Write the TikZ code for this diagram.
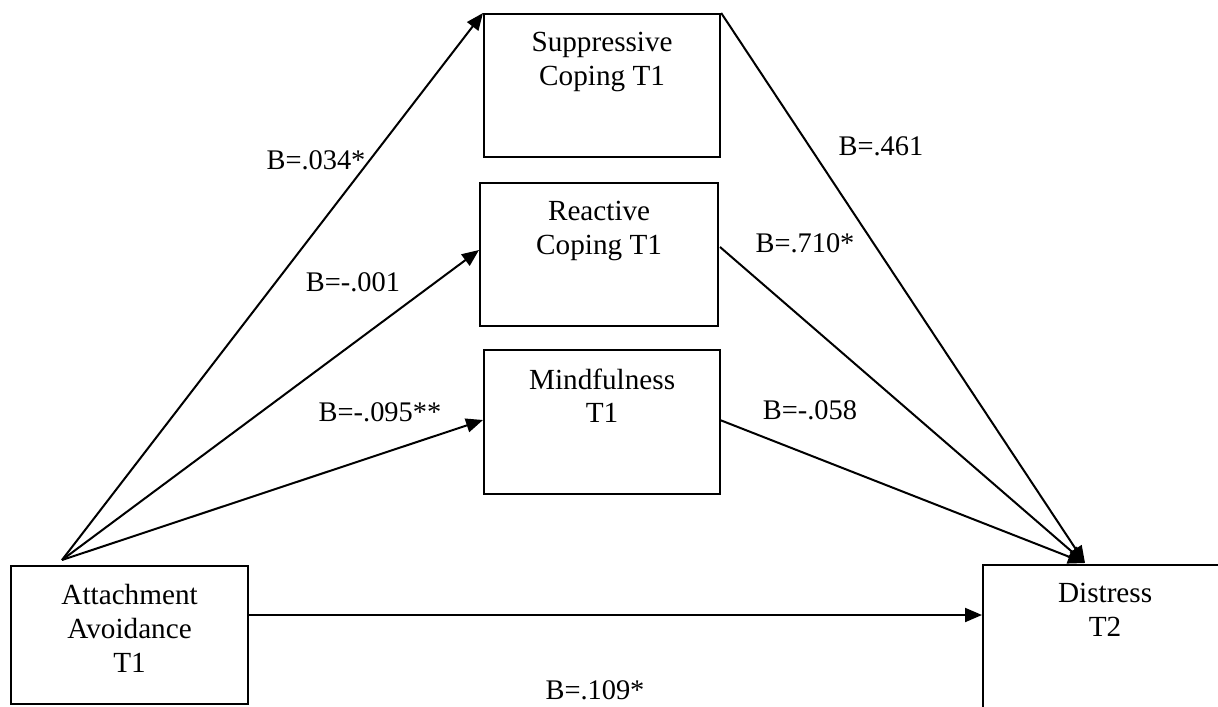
\documentclass[tikz,border=0pt]{standalone}
\usepackage{fontspec}
\setmainfont{Liberation Serif}
\usetikzlibrary{arrows.meta}
\begin{document}
\begin{tikzpicture}[x=0.5pt,y=-0.5pt,
  box/.style={draw,line width=1.1pt,rectangle,inner sep=0pt,anchor=north west},
  boxtext/.style={anchor=north,inner sep=0pt,align=center,font=\fontsize{14.6pt}{16.8pt}\selectfont},
  lab/.style={inner sep=0pt,font=\fontsize{14.2pt}{16.8pt}\selectfont},
  conn/.style={line width=1pt,-{Triangle[length=8.5pt,width=7pt]}},
  plain/.style={line width=1pt}]
\useasboundingbox (0,0) rectangle (1218,706);
% boxes
\node[box,minimum width=118pt,minimum height=71.5pt] (sup) at (483,13) {};
\node[box,minimum width=119pt,minimum height=71.5pt] (rea) at (479,182) {};
\node[box,minimum width=118pt,minimum height=72pt] (min) at (483,349) {};
\node[box,minimum width=118.5pt,minimum height=69pt] (att) at (10,565) {};
\node[box,minimum width=122pt,minimum height=74pt] (dis) at (982,564) {};
% box texts
\node[boxtext] (tsup) at ([yshift=-9.6pt]sup.north) {Suppressive\\Coping T1};
\node[boxtext] (trea) at ([yshift=-9.6pt]rea.north) {Reactive\\Coping T1};
\node[boxtext] (tmin) at ([yshift=-9.6pt]min.north) {Mindfulness\\T1};
\node[boxtext] (tatt) at ([yshift=-9.6pt]att.north) {Attachment\\Avoidance\\T1};
\node[boxtext] (tdis) at ([yshift=-9.6pt]dis.north) {Distress\\T2};
% connector points
\coordinate (a1) at (62,560);
\coordinate (d1) at (1085,563);
\coordinate (reain) at (479,250);
\coordinate (reaout) at (720,247);
\coordinate (minin) at (483,420);
\coordinate (minout) at (720,420);
\coordinate (attout) at (247,615);
\coordinate (disin) at (982,615);
% connectors
\draw[conn] (a1) -- (sup.north west);
\draw[conn] (a1) -- (reain);
\draw[conn] (a1) -- (minin);
\draw[conn] (sup.north east) -- (d1);
\draw[conn] (reaout) -- (d1);
\draw[conn] (minout) -- (d1);
\draw[conn] (attout) -- (disin);
% labels
\node[lab] (l1) at (316,160) {B=.034*};
\node[lab] (l2) at (353,282) {B=-.001};
\node[lab] (l3) at (380,412) {B=-.095**};
\node[lab] (l4) at (881,146) {B=.461};
\node[lab] (l5) at (805,243) {B=.710*};
\node[lab] (l6) at (810,410) {B=-.058};
\node[lab] (l7) at (595,690) {B=.109*};
\end{tikzpicture}
\end{document}
